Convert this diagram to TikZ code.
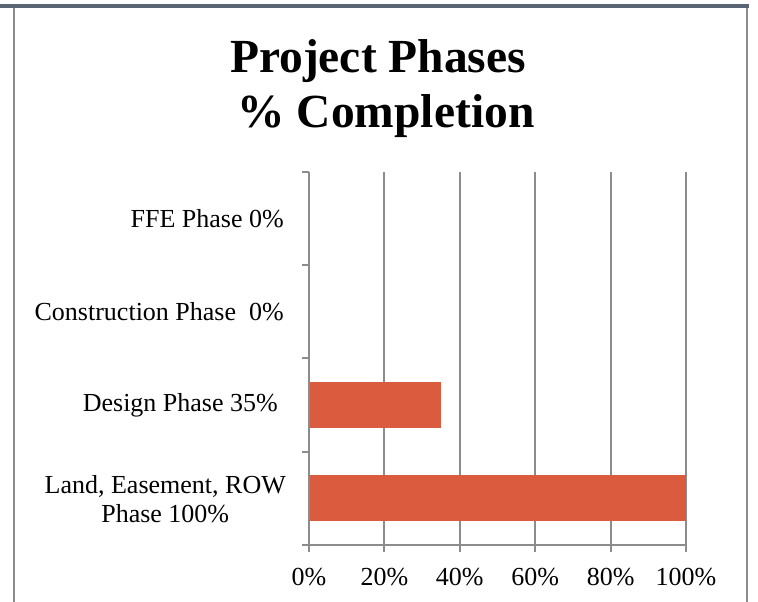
\documentclass[tikz,border=0pt]{standalone}
\usepackage{fontspec}
\setmainfont{Liberation Serif}
\usepackage{tikz}
\definecolor{barorange}{HTML}{DA5B3E}
\definecolor{gridgray}{HTML}{8C8C8C}
\definecolor{topslate}{HTML}{5A6573}

\begin{document}
\begin{tikzpicture}[x=1pt, y=-1pt,
                gridline/.style={draw=gridgray, line width=2pt}, % grid and axis lines
                frameline/.style={draw=gridgray, line width=2.2pt}, % outer frame
                phasebar/.style={fill=barorange, draw=none}, % bars
                catlabel/.style={anchor=east, inner sep=0pt, font=\fontsize{26}{29}\selectfont}, % category labels
                ticklabel/.style={inner sep=0pt, font=\fontsize{26}{29}\selectfont}, % axis labels
                titletext/.style={inner sep=0pt, font=\fontsize{47.5}{56}\bfseries} % title lines
                ]
                \useasboundingbox (0,0) rectangle (758,602);
                % frame
                \fill[topslate] (0,4) rectangle (749,8);
                \draw[frameline] (14,8) -- (14,602);
                \draw[frameline] (747,8) -- (747,602);
                % title
                \node[titletext, anchor=base] (title1) at (378,73) {Project Phases};
                \node[titletext, anchor=base] (title2) at (386,128) {\% Completion};
                % grid
                \foreach \p in {1,...,5}
                    \draw[gridline] ({309+75.4*\p},172) -- ({309+75.4*\p},552);
                % bars
                \fill[phasebar] (309,475) rectangle (686,521);
                \fill[phasebar] (309,382) rectangle (441,428);
                % axes
                \draw[gridline] (309,172) -- (309,552);
                \draw[gridline] (302,545) -- (686,545);
                \foreach \y in {172,265,358,452}
                    \draw[gridline] (302,\y) -- (309,\y);
                % labels
                \foreach \p/\t in {0/0\%,1/20\%,2/40\%,3/60\%,4/80\%,5/100\%}
                    \node[ticklabel] (x\p) at ({309+75.4*\p},577) {\t};
                \node[catlabel] (ffe) at (284,219) {FFE Phase 0\%};
                \node[catlabel] (constr) at (284,312) {Construction Phase~~0\%};
                \node[catlabel] (design) at (278,405) {Design Phase 35\%};
                \node[catlabel, align=center] (land) at (286,499) {Land, Easement, ROW\\Phase 100\%};
            \end{tikzpicture}
\end{document}
